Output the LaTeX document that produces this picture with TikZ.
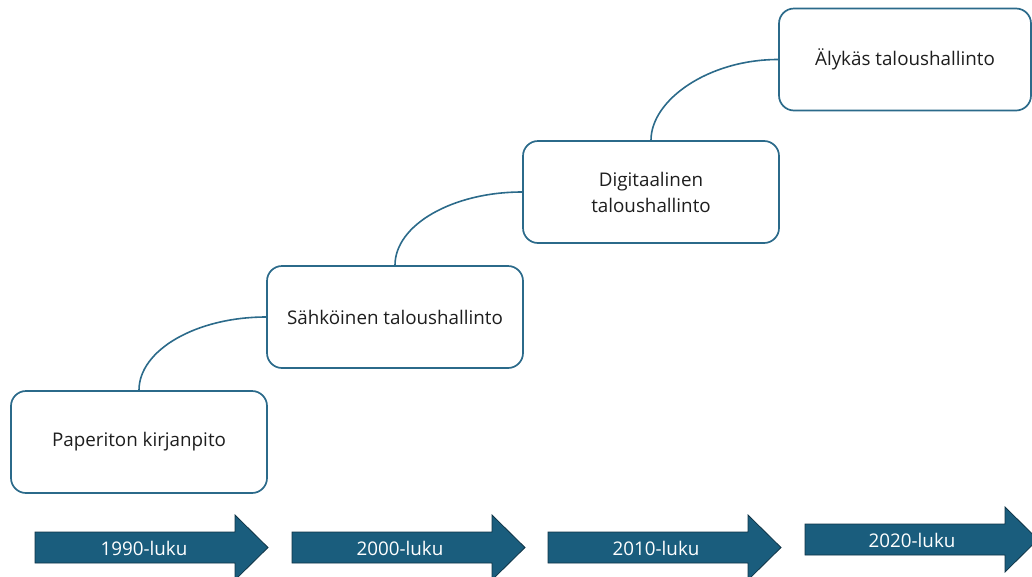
\documentclass[tikz,border=0pt]{standalone}
\usepackage{fontspec}
\setmainfont{Open Sans}
\begin{document}
\begin{tikzpicture}[x=1pt,y=-1pt,
  box/.style={draw=boxc, line width=1.7pt, rounded corners=15pt, fill=white,
    minimum height=102pt, inner sep=0pt, align=center, text=textc,
    font=\fontsize{18.8}{26}\selectfont},
  link/.style={draw=boxc, line width=1.6pt},
  arrowshape/.style={fill=arrowc, draw=arrowdark, line width=0.8pt},
  arrowtext/.style={text=white, inner sep=0pt, font=\fontsize{18.8}{22}\selectfont}]
\definecolor{boxc}{HTML}{2B6A8A}
\definecolor{arrowc}{HTML}{1A5D7D}
\definecolor{arrowdark}{HTML}{0E3346}
\definecolor{textc}{HTML}{1E1E1E}
\useasboundingbox (0,0) rectangle (1032,576);
\clip (0,0) rectangle (1032,576);

% boxes
\node[box, minimum width=256pt] (b1) at (139,442) {Paperiton kirjanpito};
\node[box, minimum width=256pt] (b2) at (395,317) {Sähköinen taloushallinto};
\node[box, minimum width=256pt] (b3) at (651,192) {Digitaalinen\\taloushallinto};
\node[box, minimum width=252pt] (b4) at (905,59.5) {Älykäs taloushallinto};

% connectors
\draw[link] (b1.north) .. controls ([yshift=40pt]b1.north) and ([xshift=-70pt]b2.west) .. (b2.west);
\draw[link] (b2.north) .. controls ([yshift=40pt]b2.north) and ([xshift=-70pt]b3.west) .. (b3.west);
\draw[link] (b3.north) .. controls ([yshift=40pt]b3.north) and ([xshift=-70pt]b4.west) .. (b4.west);

% timeline arrows
\foreach \x/\y in {35/547.5, 292/547.5, 548/547.5, 805/539.5}{
  \draw[arrowshape] (\x,\y-15.5) -- (\x+200,\y-15.5) -- (\x+200,\y-32.5)
    -- (\x+233,\y) -- (\x+200,\y+32.5) -- (\x+200,\y+15.5) -- (\x,\y+15.5) -- cycle;
}
\node[arrowtext] (t1) at (144,548) {1990-luku};
\node[arrowtext] (t2) at (400,548) {2000-luku};
\node[arrowtext] (t3) at (656,548) {2010-luku};
\node[arrowtext] (t4) at (912,540) {2020-luku};
\end{tikzpicture}
\end{document}
